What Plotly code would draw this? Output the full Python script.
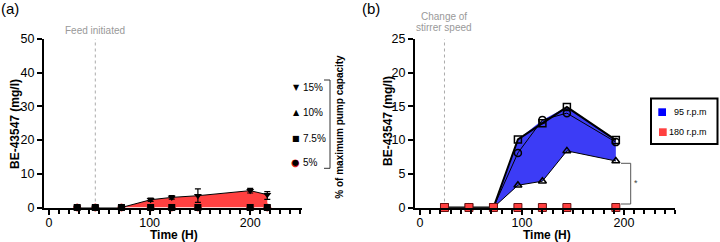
import plotly.graph_objects as go

# ---------------- data: panel (a) ----------------
time_a = [28, 46, 72, 101, 122, 148, 200, 217]
p15 = [0, 0, 0, 2.3, 3.0, 3.5, 5.0, 3.8]
p15_err_plus = [0, 0, 0, 0.5, 0.5, 2.0, 0.7, 0.9]
p15_err_minus = [0, 0, 0, 0.5, 0.5, 2.0, 0.7, 1.4]
p10 = [0, 0, 0, 0, 0, 0, 0, 0]
p75 = [0, 0, 0, 0, 0, 0, 0, 0]
p5 = [0, 0, 0, 0, 0, 0, 0, 0]
feed_time = 46
legend_a_labels = ["15%", "10%", "7.5%", "5%"]
legend_a_title = "% of maximum pump capacity"

# ---------------- data: panel (b) ----------------
time_b = [24, 48, 72, 96, 120, 144, 192]
rpm95_sq = [0, 0, 0, 10.1, 12.5, 14.9, 10.0]
rpm95_ci = [0, 0, 0, 8.1, 13.0, 14.0, 9.7]
rpm95_tr = [0, 0, 0, 3.3, 3.9, 8.4, 6.9]
rpm180 = [0, 0, 0, 0, 0, 0, 0]
stirrer_change = 24
legend_b_labels = ["95 r.p.m", "180 r.p.m"]

x_title = "Time (H)"
y_title = "BE-43547 (mg/l)"

FONT = "Liberation Sans, Arial, Helvetica, sans-serif"
RED = "#FF4040"
BLUE = "#3C3CF6"
W, H = 720, 242


def px(x):
    return x / W


def py(y):
    return 1 - y / H


fig = go.Figure()

# ---- panel (a) traces ----
fig.add_trace(go.Scatter(x=time_a, y=p5, mode="markers", xaxis="x", yaxis="y",
                         marker=dict(symbol="circle", size=7, color="black",
                                     line=dict(color="#E02020", width=1)),
                         showlegend=False, cliponaxis=False))
fig.add_trace(go.Scatter(x=time_a, y=p10, mode="markers", xaxis="x", yaxis="y",
                         marker=dict(symbol="triangle-up", size=7, color="black"),
                         showlegend=False, cliponaxis=False))
fig.add_trace(go.Scatter(x=time_a, y=p15, mode="lines+markers", xaxis="x", yaxis="y",
                         fill="tozeroy", fillcolor=RED,
                         line=dict(color="black", width=1),
                         marker=dict(symbol="triangle-down", size=7, color="black"),
                         error_y=dict(type="data", array=p15_err_plus,
                                      arrayminus=p15_err_minus, symmetric=False,
                                      color="black", thickness=1.2, width=3),
                         showlegend=False, cliponaxis=False))
fig.add_trace(go.Scatter(x=time_a, y=p75, mode="markers", xaxis="x", yaxis="y",
                         marker=dict(symbol="square", size=7, color="black"),
                         showlegend=False, cliponaxis=False))

# ---- panel (b) traces ----
upper = [max(a, b, c) for a, b, c in zip(rpm95_sq, rpm95_ci, rpm95_tr)]
lower = [min(a, b, c) for a, b, c in zip(rpm95_sq, rpm95_ci, rpm95_tr)]
fig.add_trace(go.Scatter(x=time_b + time_b[::-1], y=upper + lower[::-1],
                         mode="lines", fill="toself", fillcolor=BLUE,
                         line=dict(width=0), xaxis="x2", yaxis="y2",
                         showlegend=False, hoverinfo="skip"))
fig.add_trace(go.Scatter(x=time_b, y=rpm95_tr, mode="lines+markers", xaxis="x2", yaxis="y2",
                         line=dict(color="black", width=1),
                         marker=dict(symbol="triangle-up-open", size=7,
                                     line=dict(color="black", width=1.5)),
                         showlegend=False))
fig.add_trace(go.Scatter(x=time_b, y=rpm95_ci, mode="lines+markers", xaxis="x2", yaxis="y2",
                         line=dict(color="black", width=1),
                         marker=dict(symbol="circle-open", size=7,
                                     line=dict(color="black", width=1.5)),
                         showlegend=False))
fig.add_trace(go.Scatter(x=time_b, y=rpm95_sq, mode="lines+markers", xaxis="x2", yaxis="y2",
                         line=dict(color="black", width=2),
                         marker=dict(symbol="square-open", size=7,
                                     line=dict(color="black", width=1.5)),
                         showlegend=False))
fig.add_trace(go.Scatter(x=time_b, y=rpm180, mode="markers", xaxis="x2", yaxis="y2",
                         marker=dict(symbol="square", size=8, color=RED,
                                     line=dict(color="#6a1010", width=1)),
                         showlegend=False, cliponaxis=False))

# ---- axes ----
axis_common = dict(showline=True, linecolor="black", linewidth=2, ticks="outside",
                   tickcolor="black", tickwidth=1.5, showgrid=False, zeroline=False,
                   automargin=False,
                   tickfont=dict(family=FONT, size=12.5, color="black"))
ydom = [py(207.5), py(39)]
minor_x = dict(dtick=10, tick0=0, ticklen=4, ticks="outside", tickcolor="black", tickwidth=1.5)

fig.update_layout(
    width=W, height=H, margin=dict(l=0, r=0, t=0, b=0, pad=0, autoexpand=False),
    paper_bgcolor="white", plot_bgcolor="white",
    xaxis=dict(domain=[px(44), px(301.5)], range=[-5, 251], anchor="y",
               tickvals=[0, 100, 200], ticklen=5, minor=minor_x,
               ticklabelstandoff=-3, **axis_common),
    yaxis=dict(domain=ydom, range=[0, 50], anchor="x", tickvals=[0, 10, 20, 30, 40, 50],
               ticklen=5, **axis_common),
    xaxis2=dict(domain=[px(415), px(675)], range=[-4.9, 250], anchor="y2",
                tickvals=[0, 100, 200], ticklen=5, minor=minor_x,
                ticklabelstandoff=-3, **axis_common),
    yaxis2=dict(domain=ydom, range=[0, 25], anchor="x2", tickvals=[0, 5, 10, 15, 20, 25],
                ticklen=5, **axis_common),
)

shapes = [
    dict(type="line", xref="x", yref="y domain", x0=feed_time, x1=feed_time, y0=0, y1=1,
         line=dict(color="#AAAAAA", width=1, dash="dot"), layer="below"),
    dict(type="line", xref="x2", yref="y2 domain", x0=stirrer_change, x1=stirrer_change, y0=0, y1=1,
         line=dict(color="#AAAAAA", width=1, dash="dot"), layer="below"),
    # bracket for legend (a)
    dict(type="path", xref="paper", yref="paper",
         path=f"M {px(324)},{py(80)} L {px(330)},{py(80)} L {px(330)},{py(168.3)} L {px(324)},{py(168.3)}",
         line=dict(color="#333333", width=1)),
    # legend (b) box
    dict(type="rect", xref="paper", yref="paper", x0=px(651), x1=px(717.5), y0=py(144), y1=py(98.5),
         line=dict(color="black", width=2), fillcolor="white"),
    dict(type="rect", xref="paper", yref="paper", x0=px(658.3), x1=px(666), y0=py(116), y1=py(108.3),
         line=dict(width=0), fillcolor="#0000FF"),
    dict(type="rect", xref="paper", yref="paper", x0=px(659), x1=px(666.7), y0=py(136), y1=py(128.3),
         line=dict(width=0), fillcolor=RED),
    # significance bracket (b)
    dict(type="path", xref="paper", yref="paper",
         path=f"M {px(621)},{py(163.3)} L {px(630.7)},{py(163.3)} L {px(630.7)},{py(204)} L {px(621)},{py(204)}",
         line=dict(color="#555555", width=1)),
]
fig.update_layout(shapes=shapes)

ann = []


def text(t, x, y, size, color="black", xanchor="center", angle=0, family=FONT, bold=False):
    ann.append(dict(text=("<b>" + t + "</b>") if bold else t, x=px(x), y=py(y),
                    xref="paper", yref="paper", xanchor=xanchor, yanchor="middle",
                    textangle=angle, showarrow=False, borderpad=0,
                    font=dict(family=family, size=size, color=color)))


text("(a)", 0, 8, 15, xanchor="left")
text("(b)", 361, 8, 15, xanchor="left")
# axis titles
text(x_title, 174, 235, 12, bold=True)
text(x_title, 547, 235, 12, bold=True)
text(y_title, 15, 124, 12, angle=-90, bold=True)
text(y_title, 388, 121, 12, angle=-90, bold=True)

for t, tx, ty, ref in [("Feed initiated", feed_time, 30.7, "x"),
                       ("Change of", stirrer_change, 16.7, "x2"),
                       ("stirrer speed", stirrer_change, 27.3, "x2")]:
    ann.append(dict(text=t, x=tx, y=py(ty), xref=ref, yref="paper",
                    xanchor="center", yanchor="middle", showarrow=False, borderpad=0,
                    font=dict(family=FONT, size=10, color="#999999")))

# legend (a)
leg_y = [87.7, 112.7, 138.3, 162.7]
leg_sym = ["▼", "▲", "■", "●"]
for lab, yy, sym in zip(legend_a_labels, leg_y, leg_sym):
    if sym == "●":
        text("●", 295.5, yy, 10, color="#E02020", family="DejaVu Sans")
        text("●", 295.5, yy, 8, color="black", family="DejaVu Sans")
    else:
        text(sym, 296, yy, 8, family="DejaVu Sans")
    text(lab, 302, yy, 10, xanchor="left")
text(legend_a_title, 340, 126.7, 10, angle=-90, bold=True)

# legend (b)
for lab, yy in zip(legend_b_labels, [112, 132]):
    text(lab, 708, yy, 9, xanchor="right")
text("*", 636, 183.3, 9, color="#444444")

fig.update_layout(annotations=ann)

fig.write_html("out.html")
